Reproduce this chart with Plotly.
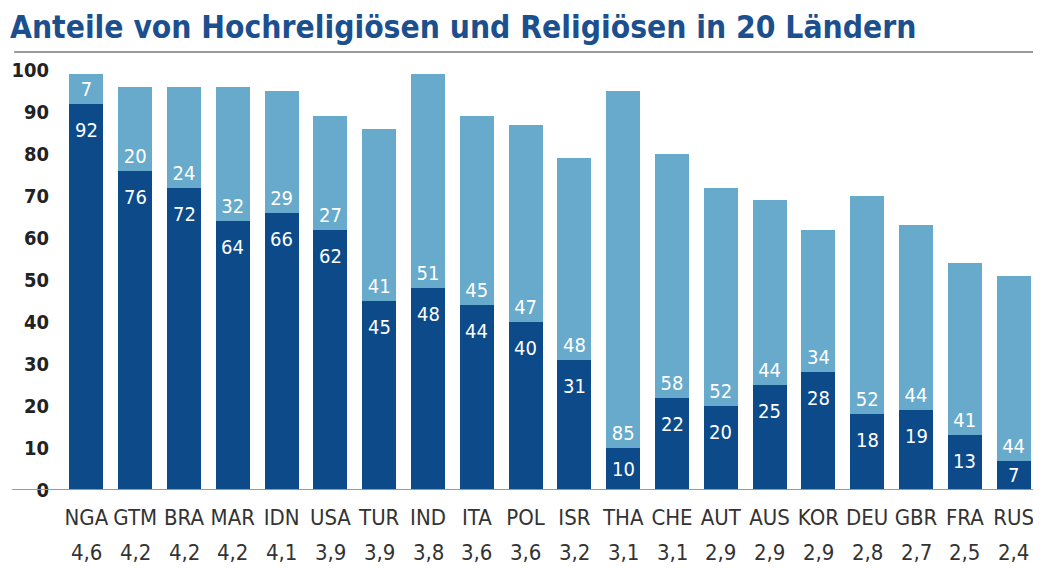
import plotly.graph_objects as go

countries = ["NGA", "GTM", "BRA", "MAR", "IDN", "USA", "TUR", "IND", "ITA", "POL",
             "ISR", "THA", "CHE", "AUT", "AUS", "KOR", "DEU", "GBR", "FRA", "RUS"]
scores = ["4,6", "4,2", "4,2", "4,2", "4,1", "3,9", "3,9", "3,8", "3,6", "3,6",
          "3,2", "3,1", "3,1", "2,9", "2,9", "2,9", "2,8", "2,7", "2,5", "2,4"]
hochreligioes = [92, 76, 72, 64, 66, 62, 45, 48, 44, 40, 31, 10, 22, 20, 25, 28, 18, 19, 13, 7]
religioes = [7, 20, 24, 32, 29, 27, 41, 51, 45, 47, 48, 85, 58, 52, 44, 34, 52, 44, 41, 44]
y_ticks = [0, 10, 20, 30, 40, 50, 60, 70, 80, 90, 100]

title_text = "Anteile von Hochreligiösen und Religiösen in 20 Ländern"

DARK = "#0c4a8a"
LIGHT = "#67aacb"
FONT = "DejaVu Sans Condensed, Liberation Sans Narrow, Roboto, Arial, sans-serif"

W, H = 1033, 560
L, R, T, B = 50, 3, 52, 78
PW, PH = W - L - R, H - T - B
Y_MAX = 102.4
PX_PER_UNIT = PH / Y_MAX

fig = go.Figure()
fig.add_trace(go.Bar(
    x=countries, y=hochreligioes, name="Hochreligiöse",
    marker=dict(color=DARK, line=dict(width=0)),
    hoverinfo="x+y",
))
fig.add_trace(go.Bar(
    x=countries, y=religioes, name="Religiöse",
    marker=dict(color=LIGHT, line=dict(width=0)),
    text=[str(v) for v in religioes], textposition="inside",
    insidetextanchor="start", textangle=0, constraintext="none",
    textfont=dict(color="white", size=20, family=FONT),
))

annotations = []
# labels of the dark segments, placed near the top of each dark bar
for c, v in zip(countries, hochreligioes):
    off = min(26, v * PX_PER_UNIT / 2)
    annotations.append(dict(
        x=c, y=v, xref="x", yref="y", text=str(v), showarrow=False,
        yanchor="middle", yshift=-off,
        font=dict(size=20, color="white", family=FONT)))
# second line of the category axis: scores
for c, s in zip(countries, scores):
    annotations.append(dict(
        x=c, y=0, xref="x", yref="paper", text=s, showarrow=False,
        yanchor="top", yshift=-48, font=dict(size=22, color="#333333", family=FONT)))

fig.update_layout(
    width=W, height=H,
    barmode="stack", bargap=0.3,
    showlegend=False,
    plot_bgcolor="white", paper_bgcolor="white",
    margin=dict(l=L, r=R, t=T, b=B, pad=0),
    font=dict(family=FONT),
    title=dict(
        text="<b>" + title_text + "</b>",
        x=2 / W, xanchor="left", xref="container",
        y=1 - 19 / H, yanchor="middle", yref="container",
        font=dict(size=31.5, color="#1b4f8e", family=FONT),
    ),
    xaxis=dict(
        showgrid=False, showline=False, ticks="", zeroline=False,
        tickfont=dict(size=22, color="#333333", family=FONT),
        ticklabelstandoff=12,
    ),
    yaxis=dict(
        range=[0, Y_MAX], tickvals=y_ticks, showgrid=False, showline=False,
        zeroline=False, ticks="",
        tickfont=dict(size=20, color="#222222", family=FONT, weight="bold"),
        ticklabelstandoff=12,
    ),
    annotations=annotations,
    shapes=[
        dict(type="line", xref="paper", yref="paper",
             x0=(2 - L) / PW, x1=(W - 0.5 - L) / PW, y0=(H - B - 44) / PH, y1=(H - B - 44) / PH,
             line=dict(color="#9a9a9a", width=2)),
        dict(type="line", xref="paper", yref="y",
             x0=(0 - L) / PW, x1=(W - 0.5 - L) / PW, y0=0, y1=0,
             line=dict(color="#9a9a9a", width=2)),
    ],
)

fig.write_html("out.html")
